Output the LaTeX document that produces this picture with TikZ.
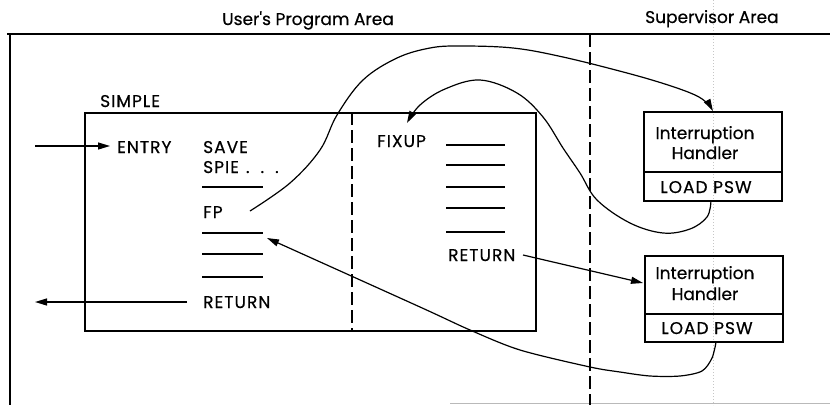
\documentclass[tikz,border=0pt]{standalone}
\usepackage{fontspec}
\setmainfont{Poppins}
\newfontfamily\lblfont{Poppins}[FakeBold=0.5]
\newfontfamily\capfont{Poppins}[FakeBold=0.5, LetterSpace=6]
\usetikzlibrary{arrows.meta}
\begin{document}
\begin{tikzpicture}[x=1pt,y=-1pt,
  lbl/.style={inner sep=0pt, font=\lblfont\fontsize{17}{20}\selectfont, anchor=base west},
  caps/.style={lbl, font=\capfont\fontsize{17}{20}\selectfont},
  lblc/.style={lbl, anchor=base},
  capsc/.style={caps, anchor=base},
  heavy/.style={line width=1.8pt},
  rule/.style={line width=1.3pt},
  link/.style={line width=1.2pt},
  tip/.style={-{Triangle[length=12pt,width=7pt]}},
  divider/.style={line width=1.3pt, dash pattern=on 13pt off 5pt},
  scan/.style={gray!45, line width=0.5pt, dash pattern=on 1pt off 2pt}]

\useasboundingbox (0,0) rectangle (830,405);

% faint vertical scan streak
\draw[scan] (713,0) -- (713,405);

% titles
\node[lbl] (tUser) at (222,25) {User{\char"27}s Program Area};
\node[lbl] (tSup) at (645,23) {Supervisor Area};

% outer frame
\draw[heavy] (7,34) -- (830,34);
\draw[heavy] (10,34) -- (10,405);
\draw[gray!55, line width=0.8pt] (450,403) -- (830,403);

% boundary between program and supervisor areas
\draw[divider] (590,34) -- (590,405);

% routine SIMPLE
\node[caps] (simple) at (100,107) {SIMPLE};
\node[draw, heavy, inner sep=0pt, minimum width=451pt, minimum height=218pt,
      anchor=north west] (simplebox) at (84,112) {};
\draw[divider] (352,112) -- (352,330);

\node[caps] (entry) at (117,153) {ENTRY};
\node[caps] (save) at (203,153) {SAVE};
\node[caps] (spie) at (203,173) {SPIE\hspace{7pt}.\hspace{11pt}.\hspace{11pt}.};
\node[caps] (fp) at (203,218) {FP};
\node[caps] (ret1) at (203,308) {RETURN};

\draw[rule] (202,187) -- (263,187);
\draw[rule] (202,233) coordinate (lnA) -- (263,233) coordinate (lnB);
\draw[rule] (202,254) -- (263,254);
\draw[rule] (202,277) -- (263,277);

% FIXUP routine
\node[caps] (fixup) at (377,147) {FIXUP};
\foreach \yy in {145,165,187,208,232}
  \draw[rule] (446,\yy) -- (505,\yy);
\node[caps] (ret2) at (448,261) {RETURN};

% interruption handlers
\node[draw, heavy, inner sep=0pt, minimum width=138pt, minimum height=89pt,
      anchor=north west] (ih1) at (643,111) {};
\draw[heavy] (643,172) -- (781,172);
\node[lblc] (ih1a) at (705,139) {Interruption};
\node[lblc] (ih1b) at (705,159) {Handler};
\node[capsc] (ih1c) at (706,193) {LOAD PSW};

\node[draw, heavy, inner sep=0pt, minimum width=138pt, minimum height=86pt,
      anchor=north west] (ih2) at (644,255) {};
\draw[heavy] (644,314) -- (782,314);
\node[lblc] (ih2a) at (705,279) {Interruption};
\node[lblc] (ih2b) at (705,300) {Handler};
\node[capsc] (ih2c) at (707,334) {LOAD PSW};

% entry and exit of SIMPLE
\coordinate (entrySrc) at (35,146);
\coordinate (exitDst) at (35,302);
\draw[link, tip] (entrySrc) -- ([xshift=-7pt,yshift=7pt]entry.base west);
\draw[link, tip] ([xshift=-16pt,yshift=6pt]ret1.base west) -- (exitDst);

% FP: program check goes to the first handler
\coordinate (fpOut) at (250,211);
\draw[link, tip] plot[smooth, tension=0.6] coordinates {
  (fpOut) (290,183) (320,150) (337,115) (363,80) (397,58) (430,48) (460,46)
  (513,48) (563,57) (627,73) (668,85) (695,95) (707,103) (ih1.north)};

% first handler passes control to FIXUP
\coordinate (fixIn) at (407,123);
\draw[link, tip] plot[smooth, tension=0.6] coordinates {
  ([xshift=-2pt]ih1.south) (707,217) (690,229) (663,233) (630,223) (597,200)
  (580,173) (563,148) (543,117) (517,93) (480,80) (445,89) (420,105) (fixIn)};

% RETURN from FIXUP goes to the second handler
\coordinate (ih2In) at (643,283);
\coordinate (ret2Out) at (523,255);
\draw[link, tip] (ret2Out) -- (ih2In);

% second handler resumes SIMPLE after FP
\draw[link, tip] plot[smooth, tension=0.5] coordinates {
  ([xshift=2pt]ih2.south) (712,358) (702,371) (680,376) (650,376) (620,372)
  (590,367) (520,350) (470,330) (420,307) ([xshift=4pt,yshift=-5pt]lnB)};
\end{tikzpicture}
\end{document}
